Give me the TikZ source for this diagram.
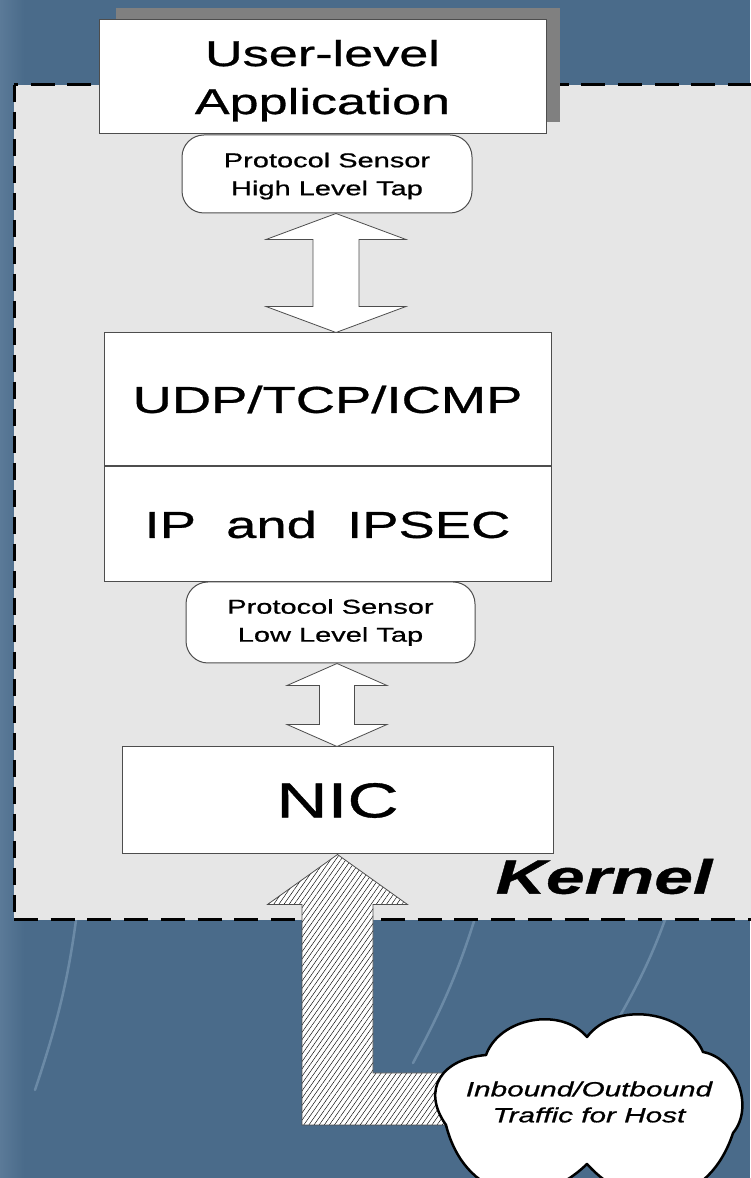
\documentclass[tikz,border=0pt]{standalone}
\usepackage{fontspec}
\setmainfont{Liberation Sans}[FakeStretch=1.45,FakeBold=0.8]
\usetikzlibrary{positioning,calc,patterns.meta}

\definecolor{slate}{HTML}{4A6B8A}
\definecolor{slatelight}{HTML}{5B7A98}
\definecolor{streak}{HTML}{7A98B3}
\definecolor{kernelgray}{HTML}{E6E6E6}
\definecolor{edgegray}{HTML}{4D4D4D}

\newcommand\updown[6]{%
  \draw[flowarrow] let \p1=(#1), \p2=(#2) in
    (#3,\y1) -- (#3+#4,\y1-#6) -- (#3+#5,\y1-#6) -- (#3+#5,\y2+#6)
    -- (#3+#4,\y2+#6) -- (#3,\y2) -- (#3-#4,\y2+#6) -- (#3-#5,\y2+#6)
    -- (#3-#5,\y1-#6) -- (#3-#4,\y1-#6) -- cycle;}

\begin{document}
\begin{tikzpicture}[x=1pt,y=1pt,
    whitebox/.style={draw=edgegray, line width=1pt, fill=white, inner sep=0pt, align=center},
    tapbox/.style={whitebox, rounded corners=22pt, font=\fontsize{20}{28}\selectfont},
    flowarrow/.style={draw=edgegray, line width=0.8pt, fill=white, line join=miter},
    hatcharrow/.style={draw=edgegray, line width=0.8pt, preaction={fill=white},
      pattern={Lines[angle=55,distance=4.2pt,line width=0.45pt]}, pattern color=black},
    kerneledge/.style={black, line width=3pt}]
  \useasboundingbox (0,0) rectangle (750,1178);
  \fill[slate] (0,0) rectangle (750,1178);
  \shade[left color=slatelight, right color=slate] (0,0) rectangle (24,1178);
  \draw[streak, line width=2.5pt, line cap=round, opacity=.7] (80,290) to[bend left=6] (35,88);
  \draw[streak, line width=2.5pt, line cap=round, opacity=.7] (484,290) to[bend left=6] (413,115);
  \draw[streak, line width=2.5pt, line cap=round, opacity=.7] (676,290) to[bend left=6] (613,150);

  \fill[kernelgray] (14,258) rectangle (752,1093);
  \draw[kerneledge, dash pattern=on 24pt off 12.7pt] (752,1093) -- (14,1093);
  \draw[kerneledge, dash pattern=on 17pt off 10pt] (14,1093) -- (14,258);
  \draw[kerneledge, dash pattern=on 24pt off 12.7pt] (14,258) -- (752,258);

  \node[fill=gray, minimum width=444pt, minimum height=114pt] (shadow) at (338,1113) {};
  \node[whitebox, minimum width=447pt, minimum height=114pt, text depth=0pt, font=\fontsize{36}{48}\selectfont] (app) at (322.5,1101) {User-level\\Application};
  \node[tapbox, minimum width=290pt, minimum height=78pt, text depth=0pt] (hi) at (327,1004) {Protocol Sensor\\High Level Tap};
  \node[whitebox, minimum width=447pt, minimum height=133pt, font=\fontsize{37.5}{40}\selectfont] (udp) at (327.5,778.5) {UDP/TCP/ICMP};
  \node[whitebox, minimum width=447pt, minimum height=115pt, font=\fontsize{37.5}{40}\selectfont, below=0pt of udp] (ip) {IP\ \ and\ \ IPSEC};
  \node[tapbox, minimum width=289pt, minimum height=81pt] (lo) at (330.5,555.5) {Protocol Sensor\\Low Level Tap};
  \node[whitebox, minimum width=431pt, minimum height=107pt, font=\fontsize{49}{55}\selectfont] (nic) at (337.5,377.5) {NIC};
  \node[font=\fontsize{48}{50}\selectfont\bfseries\itshape] (kernel) at (604,301.5) {Kernel};

  \updown{hi.south}{udp.north}{336pt}{70pt}{23pt}{26pt}
  \updown{lo.south}{nic.north}{337pt}{50pt}{17.5pt}{22pt}

  \coordinate (traffic) at (589,76);
  \draw[hatcharrow] let \p1=(nic.south), \p2=(traffic) in
    (\x1,\y1) -- (\x1+70pt,\y1-50pt) -- (\x1+35.5pt,\y1-50pt) -- (\x1+35.5pt,105pt)
    -- (\x2-100pt,105pt) -- (\x2-100pt,53pt) -- (\x1-35.5pt,53pt) -- (\x1-35.5pt,\y1-50pt)
    -- (\x1-70pt,\y1-50pt) -- cycle;
  \draw[black, line width=2.5pt, fill=white, line join=round]
    (486,123) to[out=70,in=130] (587,141) to[out=53,in=113] (703,126)
    to[out=-10,in=50] (733,45) to[out=-108,in=-48,looseness=1.3] (587,14)
    to[out=-136,in=-76,looseness=1.3] (446,53) to[out=125,in=-175,looseness=1.4] (486,123) -- cycle;
  \node[align=center, font=\fontsize{20.5}{26}\selectfont\itshape] (host) at (traffic) {Inbound/Outbound\\Traffic for Host};
\end{tikzpicture}
\end{document}
